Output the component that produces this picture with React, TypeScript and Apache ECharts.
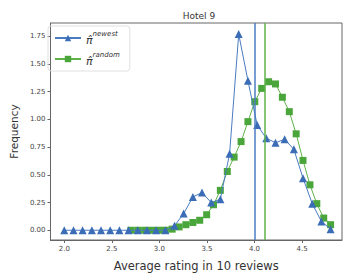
import React, { useEffect, useRef } from "react";
import * as echarts from "echarts";

const newestX = [2.0, 2.097, 2.193, 2.29, 2.386, 2.483, 2.579, 2.676, 2.772, 2.869, 2.966, 3.062, 3.159, 3.255, 3.352, 3.448, 3.545, 3.641, 3.738, 3.834, 3.931, 4.028, 4.124, 4.221, 4.317, 4.414, 4.51, 4.607, 4.703, 4.8];
const newestY = [0, 0, 0, 0, 0, 0, 0, 0, 0, 0, 0, 0, 0.04, 0.15, 0.3, 0.34, 0.25, 0.28, 0.69, 1.77, 1.35, 0.95, 0.83, 0.79, 0.82, 0.73, 0.47, 0.24, 0.08, 0.01];
const randomX = [2.7, 2.772, 2.845, 2.917, 2.99, 3.062, 3.134, 3.207, 3.279, 3.352, 3.424, 3.497, 3.569, 3.641, 3.714, 3.786, 3.859, 3.931, 4.003, 4.076, 4.148, 4.221, 4.293, 4.366, 4.438, 4.51, 4.583, 4.655, 4.728, 4.8];
const randomY = [0, 0, 0, 0, 0, 0, 0.01, 0.03, 0.05, 0.07, 0.09, 0.14, 0.23, 0.36, 0.53, 0.66, 0.8, 0.98, 1.16, 1.28, 1.34, 1.32, 1.2, 1.07, 0.87, 0.63, 0.41, 0.24, 0.11, 0.05];
const meanNewest = 4.0;
const meanRandom = 4.11;
const xTicks = [2.0, 2.5, 3.0, 3.5, 4.0, 4.5];
const yTicks = [0, 0.25, 0.5, 0.75, 1.0, 1.25, 1.5, 1.75];

const BLUE = "#3a6db5";
const BLUE_LINE = "#4a7cc2";
const GREEN = "#4aa63a";
const GREEN_LINE = "#5fb34a";
const FONT = "DejaVu Sans";

export default function App() {
  const ref = useRef<HTMLDivElement>(null);
  useEffect(() => {
    const chart = echarts.init(ref.current!, null, { renderer: "svg" });
    chart.setOption({
      animation: false,
      textStyle: { fontFamily: FONT },
      title: {
        text: "Hotel 9",
        left: 194,
        textAlign: "center",
        top: 6,
        textStyle: { fontSize: 9, fontWeight: "normal", color: "#333", fontFamily: FONT },
      },
      grid: {
        left: 46,
        right: 2,
        top: 23,
        bottom: 33,
        show: true,
        borderColor: "#666",
        borderWidth: 1,
      },
      legend: {
        orient: "vertical",
        left: 48,
        top: 26,
        itemWidth: 26,
        itemHeight: 8,
        itemGap: 5,
        borderColor: "#e0e0e0",
        borderWidth: 1,
        borderRadius: 3,
        padding: [4, 10, 4, 6],
        data: ["newest", "random"],
        formatter: (name: string) => `{a|π̂}{s|${name}}`,
        textStyle: {
          fontFamily: FONT,
          rich: {
            a: { fontSize: 11, fontStyle: "italic", color: "#333", fontFamily: FONT, verticalAlign: "bottom", lineHeight: 16 },
            s: { fontSize: 7, fontStyle: "italic", color: "#333", fontFamily: FONT, verticalAlign: "top", lineHeight: 8 },
          },
        },
      },
      xAxis: {
        type: "value",
        min: 1.855,
        max: 4.92,
        name: "Average rating in 10 reviews",
        nameLocation: "middle",
        nameGap: 20,
        nameTextStyle: { fontSize: 11.5, color: "#333", fontFamily: FONT },
        splitLine: { show: false },
        axisLine: { show: true, onZero: false, lineStyle: { color: "#666" } },
        axisTick: { show: true, customValues: xTicks, length: 3, lineStyle: { color: "#666" } },
        axisLabel: {
          customValues: xTicks,
          formatter: (v: number) => v.toFixed(1),
          fontSize: 7,
          color: "#444",
          margin: 5,
          fontFamily: FONT,
        },
      },
      yAxis: {
        type: "value",
        min: -0.088,
        max: 1.87,
        name: "Frequency",
        nameLocation: "middle",
        nameGap: 30,
        nameTextStyle: { fontSize: 10.5, color: "#333", fontFamily: FONT },
        splitLine: { show: false },
        axisLine: { show: true, lineStyle: { color: "#666" } },
        axisTick: { show: true, customValues: yTicks, length: 3, lineStyle: { color: "#666" } },
        axisLabel: {
          customValues: yTicks,
          formatter: (v: number) => v.toFixed(2),
          fontSize: 7,
          color: "#444",
          margin: 5,
          fontFamily: FONT,
        },
      },
      series: [
        {
          name: "newest",
          type: "line",
          data: newestX.map((x, i) => [x, newestY[i]]),
          symbol: "triangle",
          symbolSize: 8,
          itemStyle: { color: BLUE },
          lineStyle: { color: BLUE_LINE, width: 1 },
          z: 3,
          markLine: {
            silent: true,
            symbol: "none",
            label: { show: false },
            lineStyle: { color: BLUE_LINE, width: 1.5, type: "solid" },
            data: [{ xAxis: meanNewest }],
          },
        },
        {
          name: "random",
          type: "line",
          data: randomX.map((x, i) => [x, randomY[i]]),
          symbol: "rect",
          symbolSize: 7,
          itemStyle: { color: GREEN },
          lineStyle: { color: GREEN_LINE, width: 1 },
          z: 2,
          markLine: {
            silent: true,
            symbol: "none",
            label: { show: false },
            lineStyle: { color: GREEN_LINE, width: 1.5, type: "solid" },
            data: [{ xAxis: meanRandom }],
          },
        },
      ],
    });
    return () => chart.dispose();
  }, []);
  return <div ref={ref} style={{ width: 344, height: 277, position: "absolute", left: 0, top: 0 }} />;
}
